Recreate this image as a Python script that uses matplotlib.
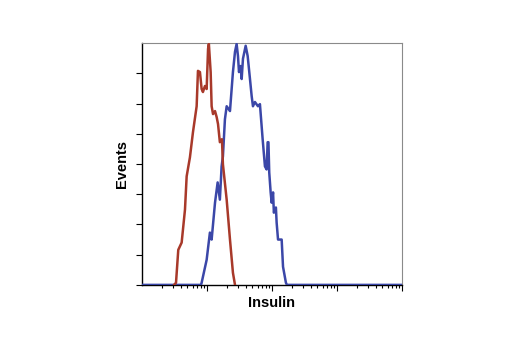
import matplotlib
matplotlib.use("Agg")
import matplotlib.pyplot as plt
import numpy as np

# Red curve (control) - log x, events y
red_x = [3.11, 3.34, 3.62, 4.08, 4.59, 4.87, 5.47, 6.09, 6.94, 7.27, 7.80, 8.28, 8.67, 9.31, 9.89,
         10.4, 10.7, 11.4, 11.8, 12.4, 13.3, 14.1, 14.8, 15.8, 17.0, 17.6, 20.1, 22.6, 25.1, 27.0]
red_y = [0.00, 0.07, 1.16, 1.40, 2.49, 3.59, 4.22, 5.05, 5.91, 7.08, 7.04, 6.48, 6.38, 6.58, 6.48,
         7.81, 7.97, 7.04, 5.91, 5.65, 5.75, 5.55, 5.32, 4.72, 4.82, 3.99, 2.82, 1.50, 0.40, 0.00]

# Blue curve (insulin stained)
blue_x = [1.0, 8.09, 8.28, 9.89, 11.1, 11.8, 13.3, 14.6, 15.8, 16.8, 17.6, 18.9, 20.1, 22.6, 25.1,
          27.0, 28.6, 30.0, 31.1, 33.0, 34.2, 35.8, 39.4, 42.3, 45.9, 48.7, 51.0, 54.7, 60.9, 65.3,
          71.9, 78.0, 82.8, 85.8, 88.3, 90.8, 95.5, 98.9, 104, 107, 115, 118, 124, 141, 148, 164,
          170, 10000]
blue_y = [0.00, 0.00, 0.07, 0.83, 1.73, 1.50, 2.72, 3.39, 2.82, 3.92, 4.25, 5.48, 5.91, 5.75, 7.04,
          7.71, 7.97, 7.57, 7.04, 7.24, 6.81, 7.48, 7.91, 7.57, 6.81, 6.25, 5.91, 6.05, 5.91, 5.98,
          4.82, 3.92, 3.82, 4.72, 4.72, 3.72, 3.06, 2.72, 3.06, 2.39, 2.56, 2.06, 1.50, 1.50, 0.60, 0.07,
          0.00, 0.00]

fig = plt.figure(figsize=(5.2, 3.5), dpi=100)
ax = fig.add_axes([0.273, 0.186, 0.5, 0.691])

ax.plot(blue_x, blue_y, color="#3b47a8", lw=1.8, zorder=3)
ax.plot(red_x, red_y, color="#a8392a", lw=1.8, zorder=4)

ax.set_xscale("log")
ax.set_xlim(1, 10000)
ax.set_ylim(0, 8.0)
ax.set_yticks(range(0, 8))
ax.set_xticks([10, 100, 1000, 10000])
ax.xaxis.set_minor_locator(matplotlib.ticker.LogLocator(base=10, subs=np.arange(2, 10), numticks=20))
ax.tick_params(axis="both", which="both", labelleft=False, labelbottom=False, direction="out", width=0.8, color="black")
ax.tick_params(axis="both", which="major", length=4)
ax.tick_params(axis="x", which="minor", length=2)

for s in ["top", "right"]:
    ax.spines[s].set_color("#8a8a8a")
    ax.spines[s].set_linewidth(0.8)
for s in ["left", "bottom"]:
    ax.spines[s].set_color("black")
    ax.spines[s].set_linewidth(1.0)

font = ["Liberation Sans Narrow", "Liberation Sans", "DejaVu Sans"]
ax.set_xlabel("Insulin", family=font, fontweight="bold", fontsize=10.5, labelpad=4)
ax.set_ylabel("Events", family=font, fontweight="bold", fontsize=10.5, labelpad=5)

fig.savefig("out.png", dpi=100)
